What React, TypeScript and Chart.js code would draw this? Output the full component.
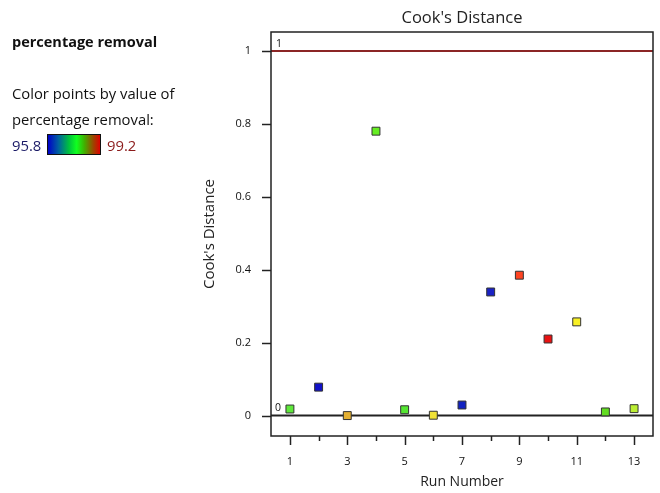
import React, { useEffect, useRef } from "react";
import { Chart, registerables } from "chart.js";

Chart.register(...registerables);

const runNumbers = [1, 2, 3, 4, 5, 6, 7, 8, 9, 10, 11, 12, 13];
const cooksDistance = [0.018, 0.078, 0.0, 0.78, 0.016, 0.001, 0.029, 0.339, 0.385, 0.21, 0.257, 0.01, 0.019];
const pointColors = [
  "#5ee83a", "#1212c8", "#e4b032", "#66ee22", "#55e632", "#f0e236", "#1222c0",
  "#1a22c4", "#ff4422", "#e81212", "#f8f024", "#62dc22", "#bbee33",
];
const yTickValues = [0, 0.2, 0.4, 0.6, 0.8, 1];
const xLabelValues = [1, 3, 5, 7, 9, 11, 13];
const limitValue = 1;
const baseValue = 0;
const colorMin = "95.8";
const colorMax = "99.2";

const FONT = "'Open Sans', 'Noto Sans', sans-serif";

const decorPlugin = {
  id: "decor",
  beforeDatasetsDraw(chart: any) {
    const { ctx, chartArea: a, scales } = chart;
    const y = scales.y;
    ctx.save();
    const y1 = y.getPixelForValue(limitValue);
    ctx.strokeStyle = "#8b2525";
    ctx.lineWidth = 2;
    ctx.beginPath();
    ctx.moveTo(a.left, y1);
    ctx.lineTo(a.right, y1);
    ctx.stroke();
    const y0 = y.getPixelForValue(baseValue);
    ctx.strokeStyle = "#222";
    ctx.beginPath();
    ctx.moveTo(a.left, y0);
    ctx.lineTo(a.right, y0);
    ctx.stroke();
    ctx.fillStyle = "#111";
    ctx.font = `10.5px ${FONT}`;
    ctx.textAlign = "left";
    ctx.textBaseline = "bottom";
    ctx.fillText(String(limitValue), a.left + 5, y1 - 2);
    ctx.fillText(String(baseValue), a.left + 4, y0 - 2);
    ctx.restore();
  },
  afterDraw(chart: any) {
    const { ctx, chartArea: a, scales } = chart;
    const x = scales.x;
    const y = scales.y;
    ctx.save();
    ctx.strokeStyle = "#222";
    ctx.lineWidth = 1.5;
    ctx.strokeRect(a.left, a.top, a.right - a.left, a.bottom - a.top);
    runNumbers.forEach((v) => {
      const px = Math.round(x.getPixelForValue(v)) + 0.5;
      const len = v % 2 === 1 ? 9 : 5;
      ctx.beginPath();
      ctx.moveTo(px, a.bottom);
      ctx.lineTo(px, a.bottom + len);
      ctx.stroke();
    });
    yTickValues.forEach((v) => {
      const py = Math.round(y.getPixelForValue(v)) + 0.5;
      ctx.beginPath();
      ctx.moveTo(a.left - 9, py);
      ctx.lineTo(a.left, py);
      ctx.stroke();
    });
    const cx = (a.left + a.right) / 2;
    ctx.fillStyle = "#222";
    ctx.textAlign = "center";
    ctx.textBaseline = "middle";
    ctx.font = `16.5px ${FONT}`;
    ctx.fillText("Cook's Distance", cx, 18);
    ctx.font = `14px ${FONT}`;
    ctx.fillText("Run Number", cx, 482);
    ctx.font = `15px ${FONT}`;
    ctx.translate(210, (a.top + a.bottom) / 2);
    ctx.rotate(-Math.PI / 2);
    ctx.fillText("Cook's Distance", 0, 0);
    ctx.restore();
  },
};

export default function App() {
  const ref = useRef<HTMLCanvasElement>(null);
  useEffect(() => {
    if (!ref.current) return;
    const chart = new Chart(ref.current, {
      type: "scatter",
      data: {
        datasets: [
          {
            data: runNumbers.map((r, i) => ({ x: r, y: cooksDistance[i] })),
            pointStyle: "rect",
            pointRadius: 5.6,
            pointHoverRadius: 5.6,
            backgroundColor: pointColors,
            borderColor: "#333",
            borderWidth: 1,
          },
        ],
      },
      options: {
        animation: false,
        responsive: false,
        events: [],
        layout: { padding: { top: 32, right: 7, left: 0, bottom: 0 } },
        plugins: { legend: { display: false }, tooltip: { enabled: false }, title: { display: false } },
        scales: {
          x: {
            type: "linear",
            min: 0.34,
            max: 13.66,
            grid: { display: false },
            border: { display: false },
            afterBuildTicks: (s: any) => {
              s.ticks = xLabelValues.map((v) => ({ value: v }));
            },
            afterFit: (s: any) => {
              s.height = 57;
            },
            ticks: {
              padding: 11,
              maxRotation: 0,
              autoSkip: false,
              color: "#111",
              font: { family: FONT, size: 11 },
              callback: (v: any) => String(v),
            },
          },
          y: {
            type: "linear",
            min: -0.056,
            max: 1.052,
            grid: { display: false },
            border: { display: false },
            afterBuildTicks: (s: any) => {
              s.ticks = yTickValues.map((v) => ({ value: v }));
            },
            afterFit: (s: any) => {
              s.width = 271;
            },
            ticks: {
              padding: 12,
              autoSkip: false,
              color: "#111",
              font: { family: FONT, size: 11 },
              callback: (v: any) => String(v),
            },
          },
        },
      },
      plugins: [decorPlugin],
    });
    return () => chart.destroy();
  }, []);

  const textStyle: React.CSSProperties = {
    position: "absolute",
    left: 12,
    fontFamily: FONT,
    fontSize: 14.8,
    color: "#111",
    whiteSpace: "nowrap",
    lineHeight: "20px",
  };

  return (
    <div style={{ position: "fixed", left: 0, top: 0, width: 660, height: 493, background: "#fff" }}>
      <canvas ref={ref} width={660} height={493} style={{ position: "absolute", left: 0, top: 0 }} />
      <div style={{ ...textStyle, top: 32, fontWeight: 700, fontSize: 14.5 }}>percentage removal</div>
      <div style={{ ...textStyle, top: 83 }}>Color points by value of</div>
      <div style={{ ...textStyle, top: 109 }}>percentage removal:</div>
      <div style={{ ...textStyle, top: 135, color: "#1a1a66" }}>{colorMin}</div>
      <div
        style={{
          position: "absolute",
          left: 47,
          top: 134,
          width: 54,
          height: 21,
          border: "1px solid #111",
          boxSizing: "border-box",
          background:
            "linear-gradient(to right, #0000c8 0%, #0060a0 20%, #00c040 40%, #10ff20 55%, #40b000 70%, #a04000 88%, #e00000 100%)",
        }}
      />
      <div style={{ ...textStyle, left: 107, top: 135, color: "#8b1a1a" }}>{colorMax}</div>
    </div>
  );
}
